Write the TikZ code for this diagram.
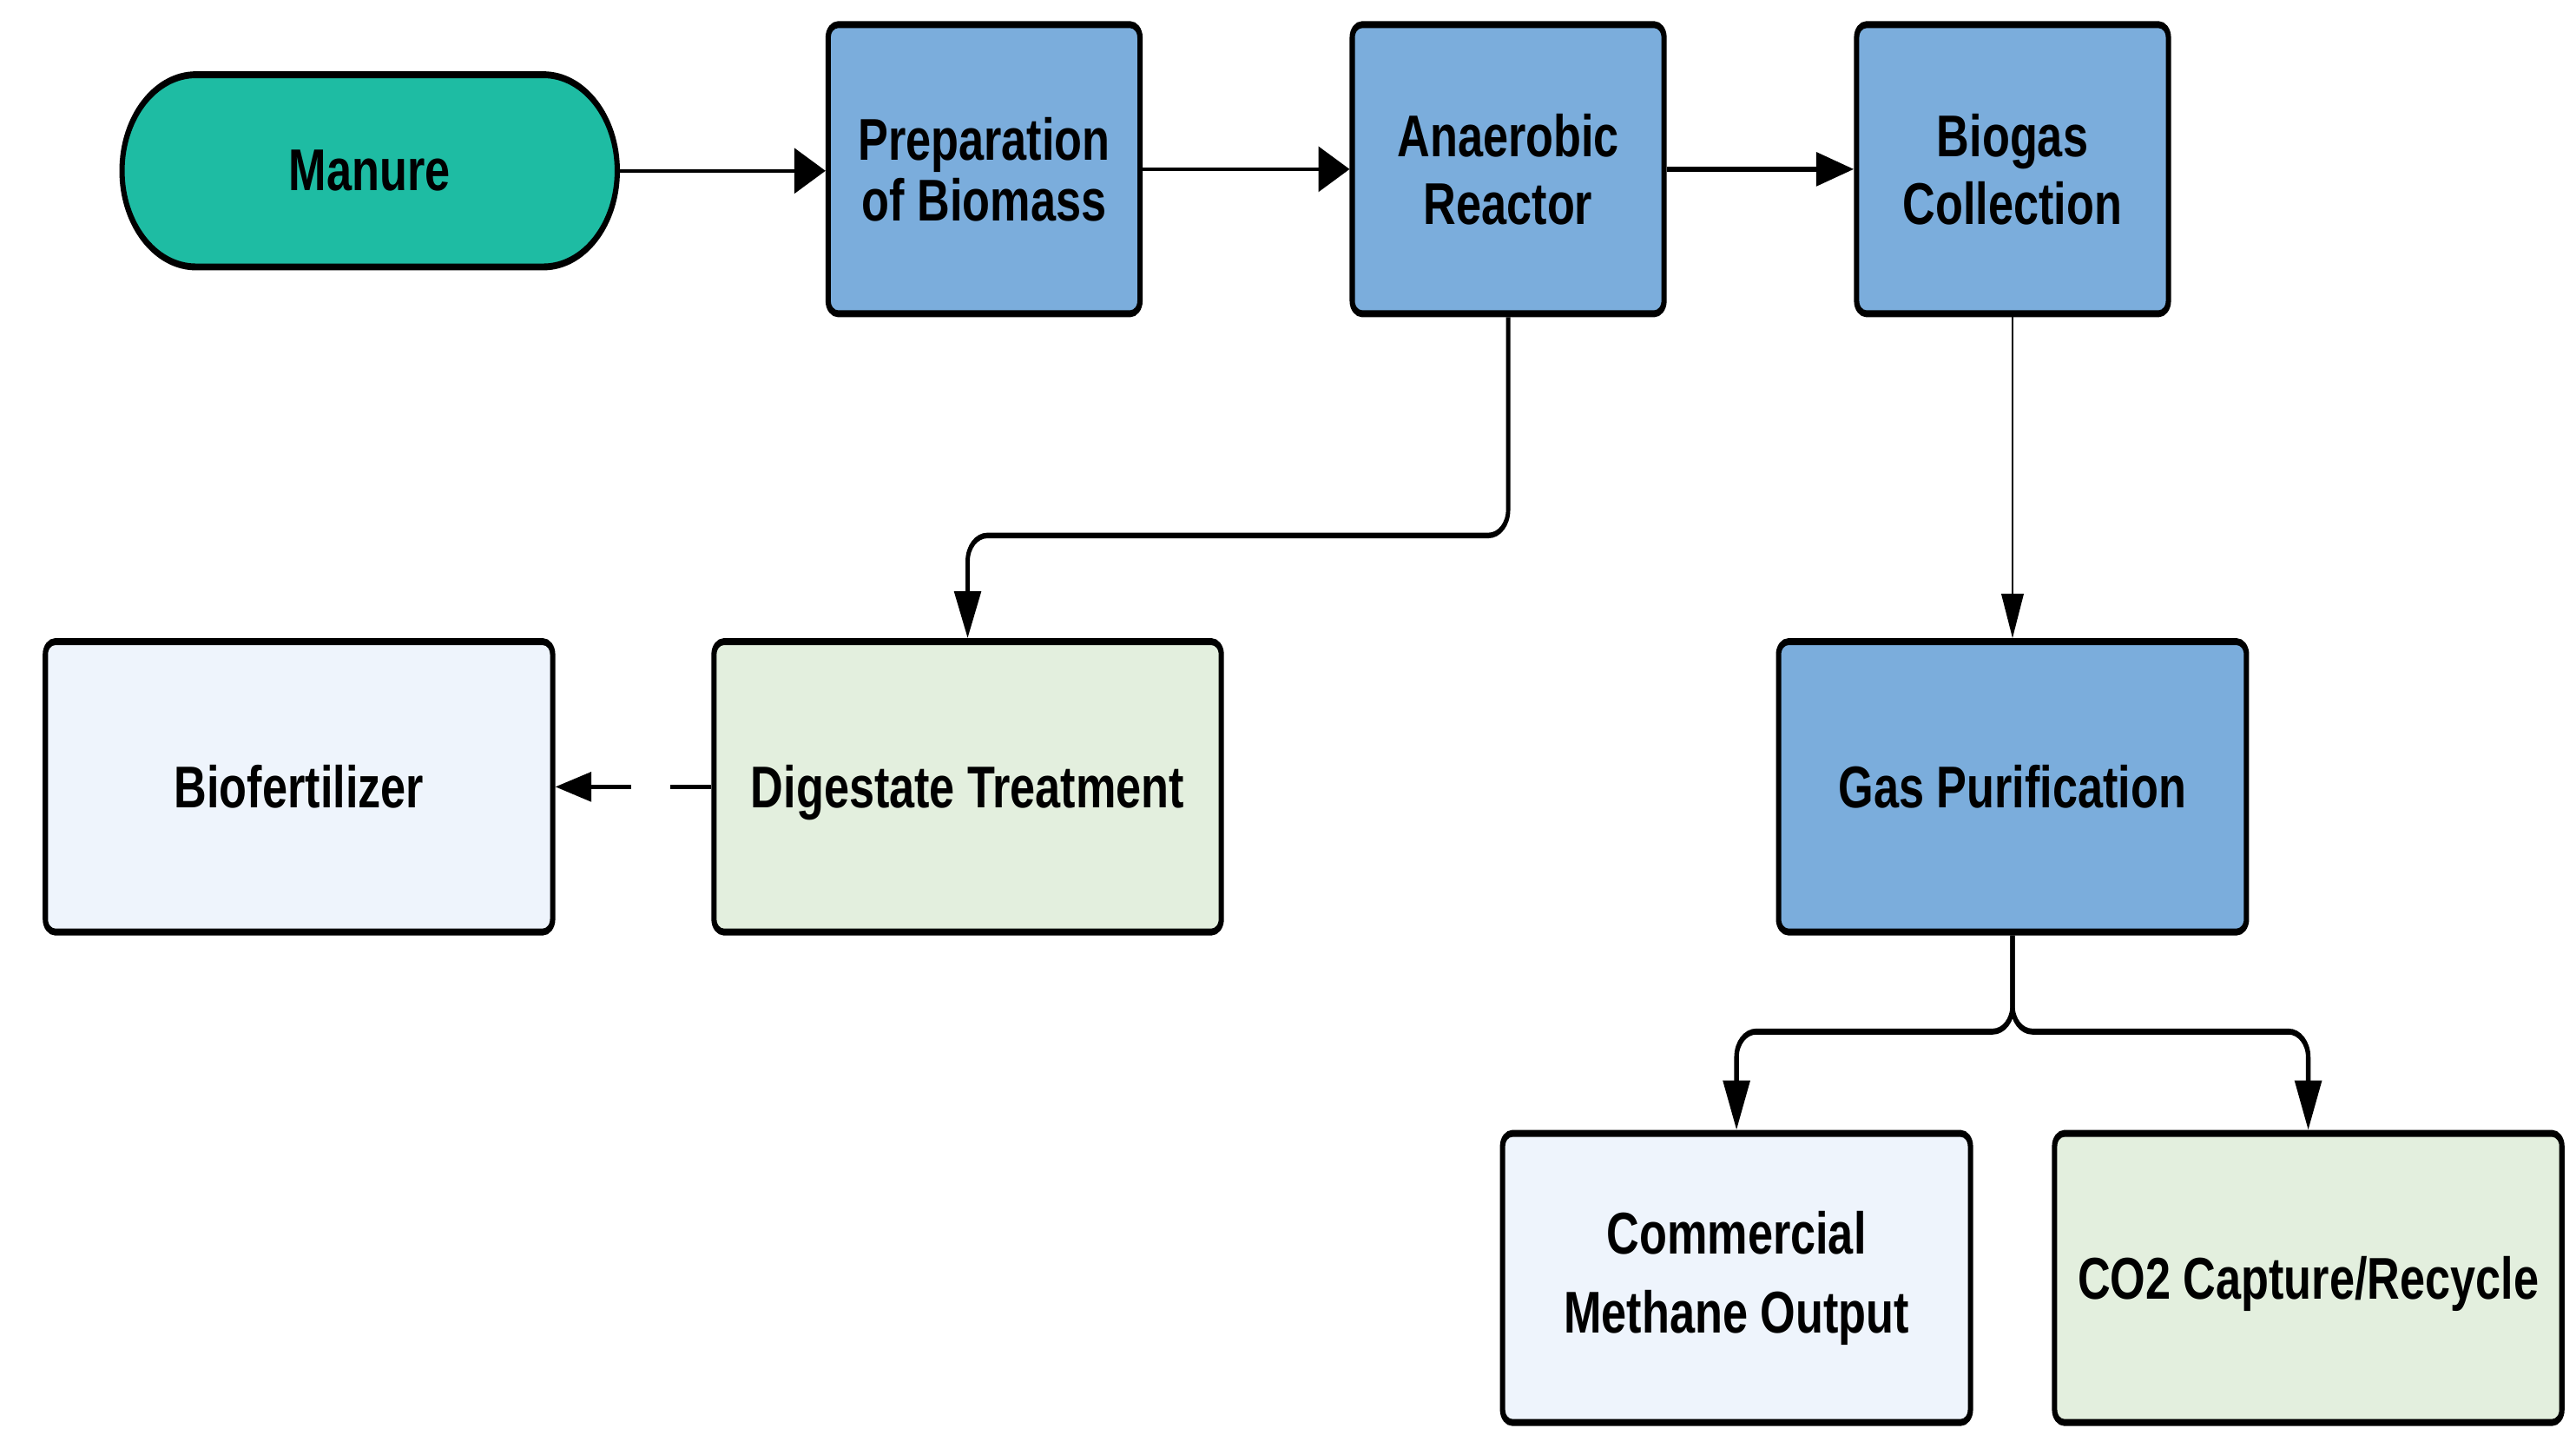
\documentclass[tikz,border=0pt]{standalone}
\usepackage{fontspec}
\setmainfont{Liberation Sans}
\usetikzlibrary{arrows.meta,shapes.misc}
\definecolor{tealfill}{RGB}{30,188,163}
\definecolor{bluefill}{RGB}{123,173,220}
\definecolor{lbluefill}{RGB}{238,244,252}
\definecolor{lgreenfill}{RGB}{227,239,222}
\begin{document}
\begin{tikzpicture}[
  x=0.5pt, y=-0.384615pt,
  box/.style={draw=black, line width=1.6pt, rounded corners=3pt, align=center, inner sep=0pt},
  txt/.style={font=\fontsize{13.8}{#1}\selectfont\bfseries},
  blue box/.style={box, fill=bluefill, minimum width=94.9pt, minimum height=67.7pt},
  wide box/.style={box, minimum width=154.4pt, minimum height=68pt},
  mid box/.style={box, minimum width=142.4pt, minimum height=68pt},
  lbl/.style={line width=#1, draw=black},
]
\useasboundingbox (0pt,0pt) rectangle (784pt,-440.5pt);
\begin{scope}[transform canvas={yscale=1.3}]
  \node[draw=black, line width=1.6pt, fill=tealfill, rounded rectangle, minimum width=157.4pt, minimum height=45pt, txt=16pt] (manure) at (225,104) {Manure};
  \node[blue box, txt=14.2pt] (prep) at (599,103) {Preparation\\of Biomass};
  \node[blue box, txt=15.8pt] (ana) at (918,103) {Anaerobic\\Reactor};
  \node[blue box, txt=15.8pt] (bio) at (1225,103) {Biogas\\Collection};
  \node[wide box, fill=lbluefill, txt=16pt] (fert) at (182,479) {Biofertilizer};
  \node[wide box, fill=lgreenfill, txt=16pt, text depth=0pt] (dig) at (589,479) {Digestate Treatment};
  \node[mid box, fill=bluefill, txt=16pt] (gas) at (1225,479) {Gas Purification};
  \node[mid box, fill=lbluefill, minimum height=67.7pt, txt=18.5pt] (com) at (1057,778) {Commercial\\Methane Output};
  \node[wide box, fill=lgreenfill, minimum height=67.7pt, txt=16pt, text depth=0pt] (co2) at (1405,778) {CO2 Capture/Recycle};

  \draw[lbl=0.9pt, -{Triangle[length=9.5pt,width=10.5pt]}] (manure.east) -- (manure.east -| prep.west);
  \draw[lbl=0.9pt, -{Triangle[length=9.5pt,width=10.5pt]}] (prep.east) -- (ana.west);
  \draw[lbl=1.36pt, -{Triangle[length=11.5pt,width=7.7pt]}] (ana.east) -- (bio.west);
  \draw[lbl=1.3pt, rounded corners=6pt, -{Triangle[length=11pt,width=8pt]}] (ana.south) -- (ana.south |- 0,326) -| (dig.north);
  \draw[lbl=0.7pt, -{Triangle[length=10.4pt,width=6.7pt]}] (bio.south) -- (gas.north);
  \draw[lbl=1.4pt, rounded corners=6pt, -{Triangle[length=11.6pt,width=8pt]}] (gas.south) -- (gas.south |- 0,628) -| (com.north);
  \draw[lbl=1.4pt, rounded corners=6pt, -{Triangle[length=11.6pt,width=8pt]}] (gas.south) -- (gas.south |- 0,628) -| (co2.north);
  \draw[lbl=1pt, dash pattern=on 12.5pt off 12pt, -{Triangle[length=11pt,width=6.8pt]}] (dig.west) -- (fert.east);
\end{scope}
\end{tikzpicture}
\end{document}
